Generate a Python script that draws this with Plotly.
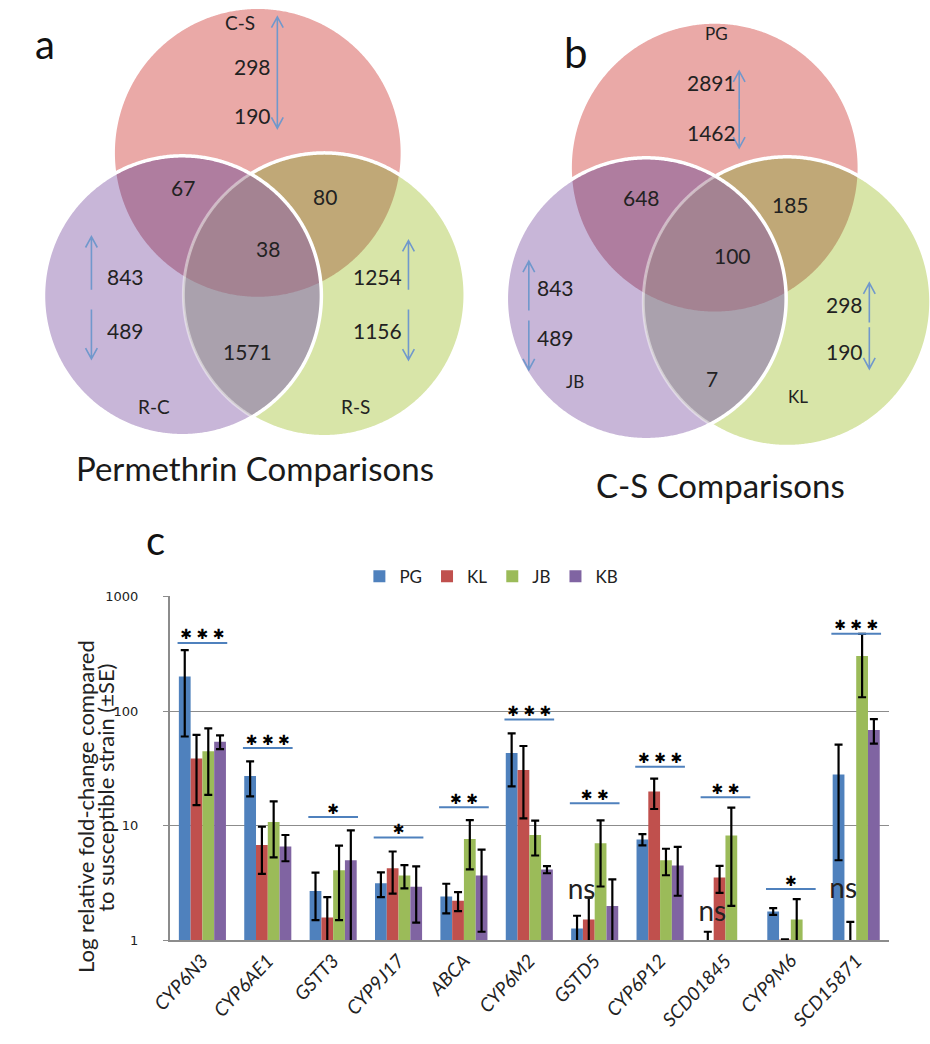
import numpy as np
import plotly.graph_objects as go

W, H = 930, 1044

# ---------------- data: panel c (qPCR bar chart) ----------------
genes = ["CYP6N3", "CYP6AE1", "GSTT3", "CYP9J17", "ABCA", "CYP6M2",
         "GSTD5", "CYP6P12", "SCD01845", "CYP9M6", "SCD15871"]
strains = ["PG", "KL", "JB", "KB"]
pg_mean = [200, 27.2, 2.7, 3.15, 2.42, 43, 1.27, 7.6, 0.9, 1.79, 28]
pg_se = [140, 9.2, 1.2, 0.77, 0.7, 21, 0.37, 0.85, 0.29, 0.12, 23]
kl_mean = [38.6, 6.8, 1.58, 4.26, 2.22, 30.6, 1.52, 19.9, 3.53, 1.02, 0.8]
kl_se = [23.5, 3.0, 0.8, 1.7, 0.42, 19, 0.85, 5.9, 0.93, 0.0, 0.65]
jb_mean = [44.6, 10.8, 4.1, 3.69, 7.67, 8.3, 7.05, 5.0, 8.2, 1.52, 302]
jb_se = [26, 5.5, 2.6, 0.85, 3.5, 2.8, 4.1, 1.3, 6.2, 0.77, 170]
kb_mean = [54, 6.6, 5.0, 2.93, 3.69, 4.15, 2.0, 4.5, None, None, 68.5]
kb_se = [7.5, 1.7, 4.1, 1.5, 2.5, 0.3, 1.4, 2.05, None, None, 16.5]
significance = ["***", "***", "*", "*", "**", "***", "**", "***", "**", "*", "***"]
sig_bar_height = [393, 47.6, 11.9, 7.9, 14.5, 84.5, 15.7, 32.7, 17.7, 2.8, 472]
ns_genes = ["GSTD5", "SCD01845", "SCD15871"]
ns_height = [2.64, 1.71, 2.69]
y_ticks = [1, 10, 100, 1000]
y_title = ["Log relative fold-change compared", "to susceptible strain (\u00b1SE)"]

# ---------------- data: panels a and b (Venn diagrams) ----------------
venn_a_sets = ["C-S", "R-C", "R-S"]          # top, left, right
venn_a_up = [298, 843, 1254]
venn_a_down = [190, 489, 1156]
venn_a_pairs = [67, 80, 1571]               # top&left, top&right, left&right
venn_a_all = 38
venn_a_title = "Permethrin Comparisons"

venn_b_sets = ["PG", "JB", "KL"]
venn_b_up = [2891, 843, 298]
venn_b_down = [1462, 489, 190]
venn_b_pairs = [648, 185, 7]
venn_b_all = 100
venn_b_title = "C-S Comparisons"

# ---------------- styling ----------------
bar_colors = ["#4F81BD", "#C0504D", "#9BBB59", "#8064A2"]
FONT = "Lato"
TXT = "#222222"
ARROW = "rgb(112,152,204)"
C_TOP = "#EAA9A7"
C_LEFT = "#C8B6D8"
C_RIGHT = "#D8E5A8"
C_TL = "#AF7D9F"
C_TR = "#C0A877"
C_LR = "#AAA1AD"
C_ALL = "#A48392"
NUM = 21


def pxx(x):
    return x / W


def pyy(y):
    return 1 - y / H


def circ(cx, cy, r, n=720):
    t = np.linspace(0, 2 * np.pi, n, endpoint=False)
    return cx + r * np.cos(t), cy + r * np.sin(t)


def to_path(xs, ys, close=True):
    s = "M " + " L ".join(f"{pxx(x):.5f},{pyy(y):.5f}" for x, y in zip(xs, ys))
    return s + (" Z" if close else "")


def inside(x, y, c):
    return (x - c[0]) ** 2 + (y - c[1]) ** 2 <= c[2] ** 2


def inter_path(circles):
    ax, ay = [], []
    for i, c in enumerate(circles):
        x, y = circ(*c)
        m = np.ones(len(x), bool)
        for j, o in enumerate(circles):
            if j != i:
                m &= inside(x, y, o)
        ax.append(x[m])
        ay.append(y[m])
    x = np.concatenate(ax)
    y = np.concatenate(ay)
    order = np.argsort(np.arctan2(y - y.mean(), x - x.mean()))
    return to_path(x[order], y[order])


def segments(x, y, m):
    n = len(m)
    if m.all():
        return [(np.append(x, x[0]), np.append(y, y[0]))]
    if not m.any():
        return []
    k = int(np.argmax(~m))
    idx = np.roll(np.arange(n), -k)
    segs, cur = [], []
    for i in idx:
        if m[i]:
            cur.append(i)
        elif cur:
            segs.append(cur)
            cur = []
    if cur:
        segs.append(cur)
    return [(x[s], y[s]) for s in segs]


shapes = []
annotations = []


def fill(path, color):
    shapes.append(dict(type="path", path=path, xref="paper", yref="paper",
                       fillcolor=color, line=dict(width=0), layer="above"))


def stroke(path, color, width):
    shapes.append(dict(type="path", path=path, xref="paper", yref="paper",
                       fillcolor="rgba(0,0,0,0)", line=dict(color=color, width=width),
                       layer="above"))


def text(x, y, s, size=NUM, color=TXT, angle=0):
    annotations.append(dict(x=pxx(x), y=pyy(y), xref="paper", yref="paper",
                            text=str(s), showarrow=False, textangle=angle,
                            font=dict(family=FONT, size=size, color=color),
                            xanchor="center", yanchor="middle"))


def arrow(x, y_tail, y_head):
    d = 1 if y_head > y_tail else -1
    hw, hl = 6, 11
    p = (f"M {pxx(x):.5f},{pyy(y_tail):.5f} L {pxx(x):.5f},{pyy(y_head):.5f} "
         f"M {pxx(x - hw):.5f},{pyy(y_head - d * hl):.5f} L {pxx(x):.5f},{pyy(y_head):.5f} "
         f"L {pxx(x + hw):.5f},{pyy(y_head - d * hl):.5f}")
    shapes.append(dict(type="path", path=p, xref="paper", yref="paper",
                       line=dict(color=ARROW, width=1.6), layer="above"))


def venn(top, left, right):
    fill(inter_path([top]), C_TOP)
    fill(inter_path([left]), C_LEFT)
    fill(inter_path([right]), C_RIGHT)
    fill(inter_path([top, left]), C_TL)
    fill(inter_path([top, right]), C_TR)
    fill(inter_path([left, right]), C_LR)
    fill(inter_path([top, left, right]), C_ALL)
    x, y = circ(*right)
    m_in = inside(x, y, left)
    for sx, sy in segments(x, y, ~m_in):
        stroke(to_path(sx, sy, close=False), "white", 3.5)
    for sx, sy in segments(x, y, m_in):
        stroke(to_path(sx, sy, close=False), "rgba(255,255,255,0.45)", 3)
    x, y = circ(*left)
    stroke(to_path(np.append(x, x[0]), np.append(y, y[0]), close=False), "white", 3.5)


# ---------------- Panel a ----------------
venn((243, 148, 146), (166, 293, 142), (311, 292, 144))
text(26, 38, "a", 40, "#111")
text(225, 16, venn_a_sets[0], 19)
text(137, 405, venn_a_sets[1], 19)
text(343, 405, venn_a_sets[2], 19)
text(238, 60, venn_a_up[0])
text(238, 110, venn_a_down[0])
text(108, 273, venn_a_up[1])
text(108, 328, venn_a_down[1])
text(365, 273, venn_a_up[2])
text(365, 328, venn_a_down[2])
text(167, 183, venn_a_pairs[0])
text(312, 192, venn_a_pairs[1])
text(233, 350, venn_a_pairs[2])
text(253, 245, venn_a_all)
text(240, 468, venn_a_title, 33, "#1a1a1a")
arrow(263, 68, 10)
arrow(263, 68, 123)
arrow(73, 287, 233)
arrow(73, 307, 357)
arrow(397, 287, 237)
arrow(397, 307, 358)

# ---------------- Panel b ----------------
venn((710, 163, 146), (640, 296, 143), (784, 299, 147))
text(568, 46, "b", 42, "#111")
text(712, 27, venn_b_sets[0], 17)
text(567, 380, venn_b_sets[1], 17)
text(795, 395, venn_b_sets[2], 17)
text(707, 77, venn_b_up[0])
text(707, 127, venn_b_down[0])
text(547, 285, venn_b_up[1])
text(547, 335, venn_b_down[1])
text(843, 302, venn_b_up[2])
text(843, 350, venn_b_down[2])
text(635, 193, venn_b_pairs[0])
text(787, 200, venn_b_pairs[1])
text(707, 377, venn_b_pairs[2])
text(728, 252, venn_b_all)
text(716, 485, venn_b_title, 33, "#1a1a1a")
arrow(735, 104, 65)
arrow(735, 104, 143)
arrow(520, 308, 258)
arrow(520, 318, 368)
arrow(868, 320, 280)
arrow(868, 325, 367)

# ---------------- Panel c ----------------
text(138, 541, "c", 40, "#111")
text(67, 811, y_title[0], 22, TXT, -90)
text(88, 792, y_title[1], 22, TXT, -90)

fig = go.Figure()
xi = list(range(len(genes)))
means = [pg_mean, kl_mean, jb_mean, kb_mean]
ses = [pg_se, kl_se, jb_se, kb_se]
for name, m, e, col in zip(strains, means, ses, bar_colors):
    fig.add_trace(go.Bar(
        x=xi, y=m, name=name, marker=dict(color=col, line=dict(width=0)),
        error_y=dict(type="data", array=e, color="black", thickness=2.2, width=4,
                     visible=True),
    ))

half = 0.38
lx, ly = [], []
for i, h in enumerate(sig_bar_height):
    lx += [i - half, i + half, None]
    ly += [h, h, None]
fig.add_trace(go.Scatter(x=lx, y=ly, mode="lines",
                         line=dict(color="#4F81BD", width=2),
                         showlegend=False, hoverinfo="skip"))
fig.add_trace(go.Scatter(x=xi, y=sig_bar_height, mode="text",
                         text=[" ".join("\u2731" * len(s)) for s in significance],
                         textposition="top center",
                         textfont=dict(family="DejaVu Sans", size=14, color="black"),
                         showlegend=False, hoverinfo="skip"))
fig.add_trace(go.Scatter(x=[genes.index(g) - 0.2 for g in ns_genes], y=ns_height,
                         mode="text", text=["ns"] * len(ns_genes),
                         textposition="middle center",
                         textfont=dict(family=FONT, size=28, color=TXT),
                         showlegend=False, hoverinfo="skip"))

fig.update_layout(
    width=W, height=H,
    margin=dict(l=0, r=0, t=0, b=0),
    paper_bgcolor="white", plot_bgcolor="rgba(0,0,0,0)",
    barmode="group", bargap=0.28, bargroupgap=0,
    shapes=shapes, annotations=annotations,
    showlegend=True,
    legend=dict(orientation="h", x=0.518, y=pyy(578), xanchor="center",
                yanchor="middle", font=dict(family=FONT, size=17, color=TXT),
                itemwidth=30, traceorder="normal"),
    xaxis=dict(domain=[pxx(153), pxx(888)], range=[-0.5, len(genes) - 0.5],
               tickvals=xi, ticktext=[f"<i>{g}</i>" for g in genes],
               tickangle=-47, tickfont=dict(family=FONT, size=19, color=TXT),
               showgrid=False, zeroline=False, showline=True,
               linecolor="#8c8c8c", linewidth=1.5, ticks=""),
    yaxis=dict(domain=[pyy(947), pyy(598)], type="log", range=[0, 3],
               tickvals=y_ticks, ticktext=[str(v) for v in y_ticks],
               tickfont=dict(family="DejaVu Sans", size=13, color=TXT),
               ticklabelstandoff=22,
               showgrid=True, gridcolor="#8c8c8c", gridwidth=1.2,
               showline=True, linecolor="#8c8c8c", linewidth=1.5,
               ticks="outside", ticklen=5, tickcolor="#8c8c8c"),
)

fig.write_html("out.html", config={"displayModeBar": False},
               post_script="document.body.style.margin='0px';")
